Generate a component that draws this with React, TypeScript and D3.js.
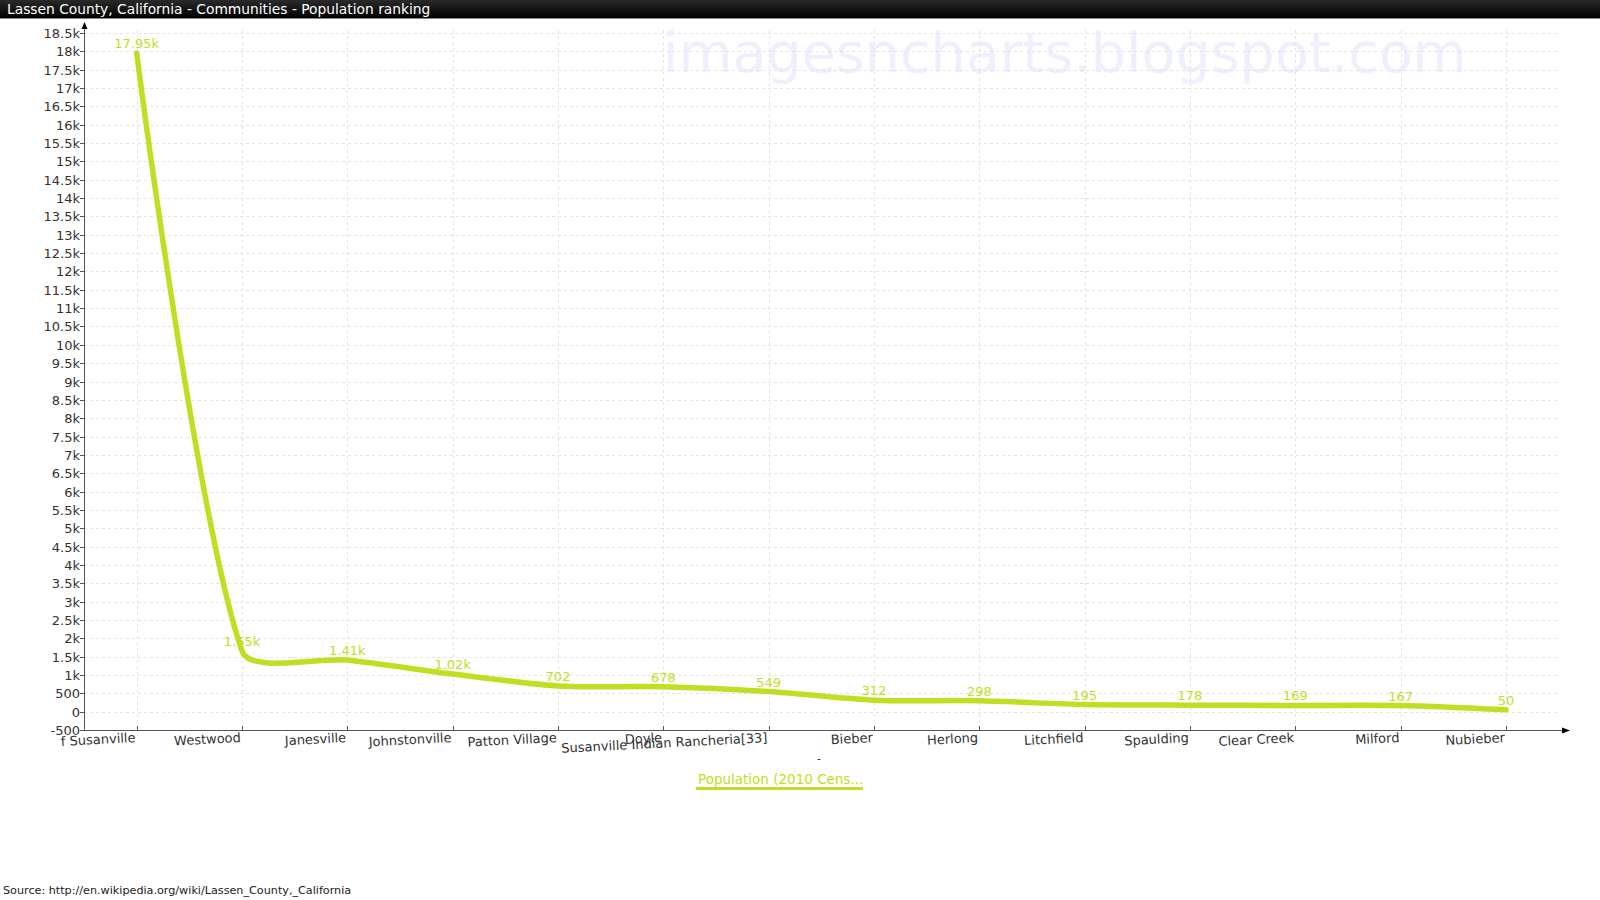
import { useEffect, useRef } from "react";
import * as d3 from "d3";

const categories = [
  "f Susanville",
  "Westwood",
  "Janesville",
  "Johnstonville",
  "Patton Village",
  "Doyle",
  "Susanville Indian Rancheria[33]",
  "Bieber",
  "Herlong",
  "Litchfield",
  "Spaulding",
  "Clear Creek",
  "Milford",
  "Nubieber",
];
const population = [17947, 1647, 1408, 1024, 702, 678, 549, 312, 298, 195, 178, 169, 167, 50];
const yTicks = d3.range(-500, 18501, 500);

const seriesName = "Population (2010 Cens...";
const title = "Lassen County, California - Communities - Population ranking";
const source = "Source:  http://en.wikipedia.org/wiki/Lassen_County,_California";

const fmt = (v: number, digits: number) =>
  Math.abs(v) >= 1000 ? `${+(v / 1000).toFixed(digits)}k` : `${v}`;

// smoothing where control handles scale with the length of the neighbouring segments
function curveSmooth(smooth: number) {
  return (context: any) => {
    let pts: [number, number][] = [];
    return {
      areaStart() {},
      areaEnd() {},
      lineStart() {
        pts = [];
      },
      point(px: number, py: number) {
        pts.push([px, py]);
      },
      lineEnd() {
        const n = pts.length;
        if (!n) return;
        const handles = pts.map((p, i) => {
          if (i === 0 || i === n - 1) return { inp: p, out: p };
          const a = pts[i - 1];
          const b = pts[i + 1];
          const vx = b[0] - a[0];
          const vy = b[1] - a[1];
          const d0 = Math.hypot(p[0] - a[0], p[1] - a[1]);
          const d1 = Math.hypot(b[0] - p[0], b[1] - p[1]);
          const k0 = (smooth * d0) / (d0 + d1);
          const k1 = (smooth * d1) / (d0 + d1);
          return {
            inp: [p[0] - vx * k0, p[1] - vy * k0],
            out: [p[0] + vx * k1, p[1] + vy * k1],
          };
        });
        context.moveTo(pts[0][0], pts[0][1]);
        for (let i = 0; i < n - 1; i++) {
          const c1 = handles[i].out;
          const c2 = handles[i + 1].inp;
          context.bezierCurveTo(c1[0], c1[1], c2[0], c2[1], pts[i + 1][0], pts[i + 1][1]);
        }
      },
    };
  };
}

export default function App() {
  const svgRef = useRef<SVGSVGElement>(null);

  useEffect(() => {
    if (!svgRef.current) return;
    const svg = d3.select(svgRef.current);
    svg.selectAll("*").remove();

    const width = 1600;
    const font = "DejaVu Sans, Verdana, sans-serif";
    const green = "#bfe022";

    // plot box
    const left = 84;
    const bottom = 730;
    const gridRight = 1559;

    const x = d3.scalePoint<string>().domain(categories).range([136.7, 1506]);
    const y = d3.scaleLinear().domain([-500, 18500]).range([bottom, 33]);

    // title bar
    const grad = svg.append("defs").append("linearGradient")
      .attr("id", "tbar").attr("x1", 0).attr("y1", 0).attr("x2", 0).attr("y2", 1);
    grad.append("stop").attr("offset", "0%").attr("stop-color", "#2a2a2a");
    grad.append("stop").attr("offset", "100%").attr("stop-color", "#000");
    svg.append("rect").attr("width", width).attr("height", 18).attr("fill", "url(#tbar)");
    svg.append("line").attr("x1", 0).attr("x2", width).attr("y1", 18.5).attr("y2", 18.5)
      .attr("stroke", "#888");
    svg.append("text").attr("x", 7).attr("y", 14).attr("fill", "#fff")
      .attr("font-family", font).attr("font-size", 13.8).text(title);

    // watermark
    svg.append("text").attr("x", 663).attr("y", 72)
      .attr("font-family", font).attr("font-size", 55.5).attr("fill", "#eef0fd")
      .text("imagesncharts.blogspot.com");

    // grid
    svg.append("g").selectAll("line").data(yTicks).join("line")
      .attr("x1", left).attr("x2", gridRight)
      .attr("y1", (d) => Math.round(y(d)) + 0.5).attr("y2", (d) => Math.round(y(d)) + 0.5)
      .attr("stroke", "#e4e4e4").attr("stroke-dasharray", "3,3");
    svg.append("g").selectAll("line").data(categories).join("line")
      .attr("x1", (d) => Math.round(x(d)!) + 0.5).attr("x2", (d) => Math.round(x(d)!) + 0.5)
      .attr("y1", 30).attr("y2", bottom)
      .attr("stroke", "#e4e4e4").attr("stroke-dasharray", "3,3");

    // y axis
    const axisColor = "#555";
    svg.append("line").attr("x1", left + 0.5).attr("x2", left + 0.5)
      .attr("y1", bottom).attr("y2", 27).attr("stroke", axisColor);
    svg.append("path").attr("d", `M${left + 0.5},22 L${left - 2.5},29 L${left + 3.5},29 Z`)
      .attr("fill", "#000");
    const yg = svg.append("g");
    yg.selectAll("line").data(yTicks).join("line")
      .attr("x1", left - 4).attr("x2", left)
      .attr("y1", (d) => Math.round(y(d)) + 0.5).attr("y2", (d) => Math.round(y(d)) + 0.5)
      .attr("stroke", axisColor);
    yg.selectAll("text").data(yTicks).join("text")
      .attr("x", left - 4).attr("y", (d) => y(d) + 5)
      .attr("text-anchor", "end").attr("font-family", font).attr("font-size", 13)
      .attr("fill", "#333").text((d) => fmt(d, 1));

    // x axis
    svg.append("line").attr("x1", left).attr("x2", 1564)
      .attr("y1", bottom + 0.5).attr("y2", bottom + 0.5).attr("stroke", axisColor);
    svg.append("path").attr("d", `M1570,${bottom + 0.5} L1562,${bottom - 2.5} L1562,${bottom + 3.5} Z`)
      .attr("fill", "#000");
    const xg = svg.append("g");
    xg.selectAll("line").data(categories).join("line")
      .attr("x1", (d) => Math.round(x(d)!) + 0.5).attr("x2", (d) => Math.round(x(d)!) + 0.5)
      .attr("y1", bottom - 4).attr("y2", bottom).attr("stroke", axisColor);
    xg.selectAll("text").data(categories).join("text")
      .attr("transform", (d) => `translate(${x(d)! - 1},${bottom + 12}) rotate(-3)`)
      .attr("text-anchor", "end").attr("font-family", font).attr("font-size", 13)
      .attr("fill", "#333").text((d) => d);
    svg.append("text").attr("x", 819).attr("y", 762).attr("text-anchor", "middle")
      .attr("font-family", font).attr("font-size", 11).attr("fill", "#333").text("-");

    // series line
    const pts = categories.map((c, i) => [x(c)!, y(population[i])] as [number, number]);
    const line = d3.line().curve(curveSmooth(0.25) as any);
    svg.append("path").attr("d", line(pts)!).attr("fill", "none")
      .attr("stroke", green).attr("stroke-width", 5.5).attr("stroke-linecap", "round")
      .attr("stroke-linejoin", "round");

    // value labels
    svg.append("g").selectAll("text").data(categories).join("text")
      .attr("x", (d) => x(d)!).attr("y", (d, i) => y(population[i]) - 5)
      .attr("text-anchor", "middle").attr("font-family", font).attr("font-size", 13)
      .attr("fill", green).text((d, i) => fmt(population[i], 2));

    // legend
    svg.append("text").attr("x", 698).attr("y", 784)
      .attr("font-family", font).attr("font-size", 13.5).attr("fill", green).text(seriesName);
    svg.append("line").attr("x1", 696).attr("x2", 863).attr("y1", 788.5).attr("y2", 788.5)
      .attr("stroke", green).attr("stroke-width", 3);

    // source
    svg.append("text").attr("x", 3).attr("y", 894)
      .attr("font-family", font).attr("font-size", 11.2).attr("fill", "#222").text(source);
  }, []);

  return (
    <svg
      ref={svgRef}
      width="1600"
      height="900"
      style={{ position: "absolute", left: 0, top: 0, background: "#fff" }}
    ></svg>
  );
}
